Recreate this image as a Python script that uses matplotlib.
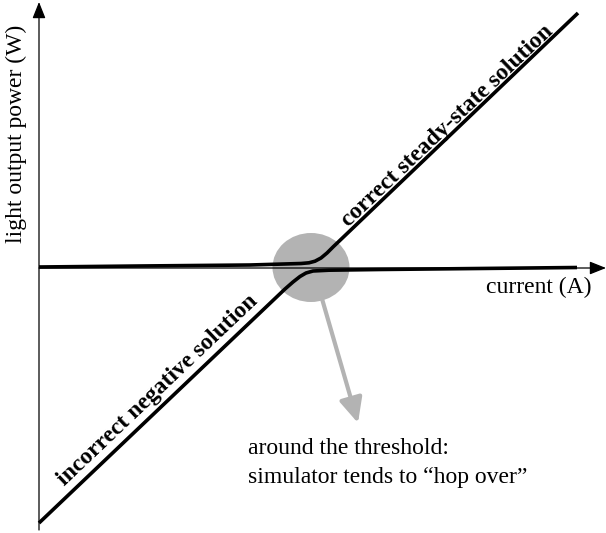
import matplotlib.pyplot as plt
from matplotlib.patches import Ellipse

plt.rcParams['font.family'] = ['Liberation Serif', 'DejaVu Serif']

# schematic data (arbitrary units, origin at the axis crossing)
upper_x = [0, 100, 211, 262, 270, 276, 282, 288, 294, 539]
upper_y = [1, 2, 3, 4.5, 5.2, 6.8, 10, 15, 21, 255]

lower_x = [0, 246, 254, 261, 267, 274, 290, 341, 538]
lower_y = [-255, -21, -14, -8.5, -5, -3, -2.2, -1.5, 0.5]

spot_center = (272, 0.5)
spot_size = (77, 69)
hint_start = (279, -17)
hint_tip = (319, -155)

fig = plt.figure(figsize=(6.06, 5.33), dpi=100)
ax = fig.add_axes([0, 0, 1, 1])
ax.set_xlim(-39, 567)
ax.set_ylim(-265, 268)
ax.axis('off')

# axes arrows
ax.annotate('', xy=(0, 266), xytext=(0, -262),
            arrowprops=dict(arrowstyle='-|>,head_length=1.0,head_width=0.4',
                            lw=0.9, color='black', shrinkA=0, shrinkB=0))
ax.annotate('', xy=(567, 0), xytext=(0, 0),
            arrowprops=dict(arrowstyle='-|>,head_length=1.0,head_width=0.4',
                            lw=0.9, color='black', shrinkA=0, shrinkB=0))

# hop-over hint
ax.annotate('', xy=hint_tip, xytext=hint_start, zorder=1,
            arrowprops=dict(arrowstyle='-|>,head_length=0.75,head_width=0.35',
                            mutation_scale=20, lw=3, color='#b3b3b3',
                            shrinkA=0, shrinkB=0))
ax.add_patch(Ellipse(spot_center, spot_size[0], spot_size[1],
                     color='#b3b3b3', lw=0, zorder=2))

ax.plot(upper_x, upper_y, color='black', lw=2.6, zorder=3,
        solid_capstyle='butt', solid_joinstyle='round')
ax.plot(lower_x, lower_y, color='black', lw=2.6, zorder=3,
        solid_capstyle='butt', solid_joinstyle='round')

ax.text(-23, 134, 'light output power (W)', rotation=90, fontsize=17,
        ha='center', va='center')
ax.text(553, -25, 'current (A)', fontsize=17, ha='right', va='baseline')

ax.text(408, 142, 'correct steady-state solution', fontsize=17,
        fontweight='bold', rotation=43.5, ha='center', va='center')
ax.text(119, -122, 'incorrect negative solution', fontsize=17,
        fontweight='bold', rotation=43.5, ha='center', va='center')

ax.text(209, -186, 'around the threshold:', fontsize=17, ha='left', va='baseline')
ax.text(209, -215, 'simulator tends to \u201chop over\u201d', fontsize=17,
        ha='left', va='baseline')

fig.savefig('out.png', dpi=100)
